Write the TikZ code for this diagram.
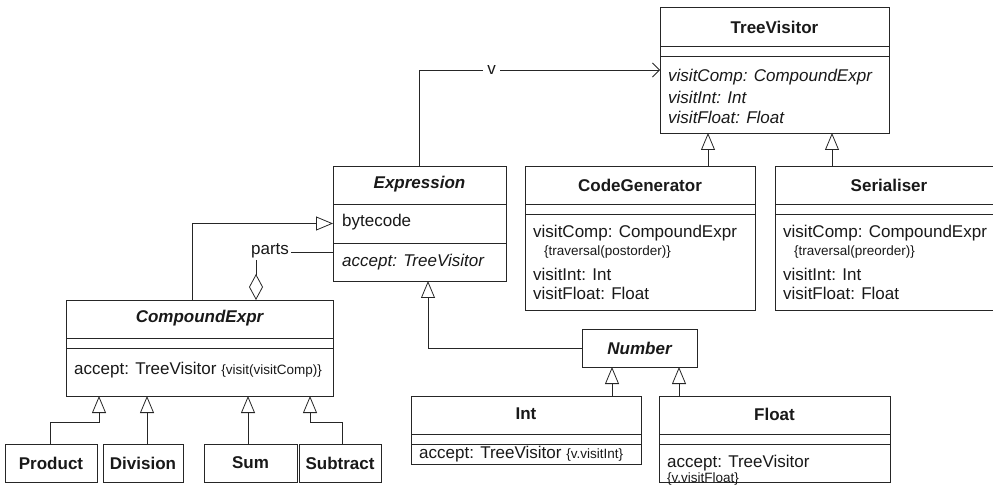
\documentclass[tikz,border=0pt]{standalone}
\usepackage{fontspec}
\setmainfont{Liberation Sans}
\usetikzlibrary{arrows.meta}

\newcommand{\umlfont}{\fontsize{17}{20}\selectfont}
\newcommand{\tagnote}[1]{{\fontsize{13.5}{15}\selectfont\{#1\}}}
\newcommand{\divider}[2]{\draw[line] ([yshift=-#2]#1.north west) -- ([yshift=-#2]#1.north east);}

\begin{document}
\begin{tikzpicture}[x=1pt,y=1pt,
  every node/.style={font=\umlfont,inner sep=0pt,text=black!90},
  line/.style={draw=black!85,line width=0.8pt},
  cls/.style={line,fill=white,outer sep=0pt},
  title/.style={font=\umlfont\bfseries},
  abstract/.style={font=\umlfont\bfseries\itshape},
  member/.style={anchor=west},
  amember/.style={anchor=west,font=\umlfont\itshape},
  inherit/.style={line,-{Triangle[open,length=17pt,width=14pt]}},
  navig/.style={line,-{Straight Barb[length=7pt,width=14pt]}},
  aggr/.style={line,{Diamond[open,length=26pt,width=14pt]}-}]
  \useasboundingbox (0,0) rectangle (993,-486);

  % ---------- visitor side ----------
  \node[cls,minimum width=229,minimum height=126] (visitor) at (774.5,-70) {};
  \divider{visitor}{39}
  \divider{visitor}{49}
  \node[title] (visitor-t) at ([yshift=-20]visitor.north) {TreeVisitor};
  \node[amember] (visitor-m1) at ([xshift=8,yshift=-70]visitor.north west) {visitComp: CompoundExpr};
  \node[amember] (visitor-m2) at ([xshift=8,yshift=-90]visitor.north west) {visitInt: Int};
  \node[amember] (visitor-m3) at ([xshift=8,yshift=-110]visitor.north west) {visitFloat: Float};

  \node[cls,minimum width=230,minimum height=144] (codegen) at (640,-238) {};
  \divider{codegen}{38}
  \divider{codegen}{48}
  \node[title] (codegen-t) at ([yshift=-19]codegen.north) {CodeGenerator};
  \node[member] (codegen-m1) at ([xshift=8,yshift=-67]codegen.north west) {visitComp: CompoundExpr};
  \node[member] (codegen-n1) at ([xshift=19,yshift=-86]codegen.north west) {\tagnote{traversal(postorder)}};
  \node[member] (codegen-m2) at ([xshift=8,yshift=-108]codegen.north west) {visitInt: Int};
  \node[member] (codegen-m3) at ([xshift=8,yshift=-127]codegen.north west) {visitFloat: Float};

  \node[cls,minimum width=228,minimum height=144] (serial) at (889,-238) {};
  \divider{serial}{38}
  \divider{serial}{48}
  \node[title] (serial-t) at ([yshift=-19]serial.north) {Serialiser};
  \node[member] (serial-m1) at ([xshift=8,yshift=-67]serial.north west) {visitComp: CompoundExpr};
  \node[member] (serial-n1) at ([xshift=19,yshift=-86]serial.north west) {\tagnote{traversal(preorder)}};
  \node[member] (serial-m2) at ([xshift=8,yshift=-108]serial.north west) {visitInt: Int};
  \node[member] (serial-m3) at ([xshift=8,yshift=-127]serial.north west) {visitFloat: Float};

  % ---------- expression side ----------
  \node[cls,minimum width=173,minimum height=115] (expr) at (419.5,-223.5) {};
  \divider{expr}{38}
  \divider{expr}{77}
  \node[abstract] (expr-t) at ([yshift=-18]expr.north) {Expression};
  \node[member] (expr-m1) at ([xshift=9,yshift=-56]expr.north west) {bytecode};
  \node[amember] (expr-m2) at ([xshift=9,yshift=-96]expr.north west) {accept: TreeVisitor};

  \node[cls,minimum width=115,minimum height=38] (number) at (639.5,-348) {};
  \node[abstract] (number-t) at (number) {Number};

  \node[cls,minimum width=230,minimum height=68] (int) at (526,-430) {};
  \divider{int}{38}
  \divider{int}{48}
  \node[title] (int-t) at ([yshift=-18]int.north) {Int};
  \node[member] (int-m1) at ([xshift=8,yshift=-58]int.north west) {accept: TreeVisitor \tagnote{v.visitInt}};

  \node[cls,minimum width=231,minimum height=86] (float) at (774.5,-439) {};
  \divider{float}{38}
  \divider{float}{48}
  \node[title] (float-t) at ([yshift=-18]float.north) {Float};
  \node[member] (float-m1) at ([xshift=8,yshift=-67]float.north west) {accept: TreeVisitor};
  \node[member] (float-n1) at ([xshift=8,yshift=-83]float.north west) {\tagnote{v.visitFloat}};

  \node[cls,minimum width=267,minimum height=96] (compound) at (199.5,-348) {};
  \divider{compound}{38}
  \divider{compound}{48}
  \node[abstract] (compound-t) at ([yshift=-18]compound.north) {CompoundExpr};
  \node[member] (compound-m1) at ([xshift=8,yshift=-70]compound.north west) {accept: TreeVisitor \tagnote{visit(visitComp)}};

  % concrete expressions
  \node[cls,minimum width=92,minimum height=38] (product) at (51,-463) {};
  \node[title] (product-t) at (product) {Product};
  \node[cls,minimum width=80,minimum height=38] (division) at (143,-463) {};
  \node[title] (division-t) at (division) {Division};
  \node[cls,minimum width=93,minimum height=38] (sum) at (250.5,-463) {};
  \node[title] (sum-t) at (sum) {Sum};
  \node[cls,minimum width=82,minimum height=38] (subtract) at (340,-463) {};
  \node[title] (subtract-t) at (subtract) {Subtract};

  % ---------- relations ----------
  \draw[navig] (expr.north) |- (visitor.west)
    node[pos=0.65,fill=white,inner xsep=4pt,inner ysep=1pt] (v-label) {v};
  \draw[inherit] ([xshift=68]codegen.north) -- ([xshift=68]codegen.north |- visitor.south);
  \draw[inherit] ([xshift=-57]serial.north) -- ([xshift=-57]serial.north |- visitor.south);
  \draw[inherit] (number.west) -| ([xshift=8.5]expr.south);
  \draw[inherit] ([xshift=86]int.north) -- ([xshift=86]int.north |- number.south);
  \draw[inherit] ([xshift=-95.5]float.north) -- ([xshift=-95.5]float.north |- number.south);
  \draw[inherit] ([xshift=-7.5]compound.north) |- (expr.west);
  \draw[aggr] ([xshift=56.5]compound.north) |- ([yshift=-28.5]expr.west)
    node[pos=0.5,xshift=14,yshift=1,fill=white,inner sep=2pt] (parts) {parts};

  \draw[inherit] ([xshift=-1]product.north) -- ++(0,22) -| ([xshift=-100.5]compound.south);
  \draw[inherit] ([xshift=4]division.north) -- ([xshift=4]division.north |- compound.south);
  \draw[inherit] ([xshift=-2.5]sum.north) -- ([xshift=-2.5]sum.north |- compound.south);
  \draw[inherit] ([xshift=2]subtract.north) -- ++(0,22) -| ([xshift=110.5]compound.south);
\end{tikzpicture}
\end{document}
